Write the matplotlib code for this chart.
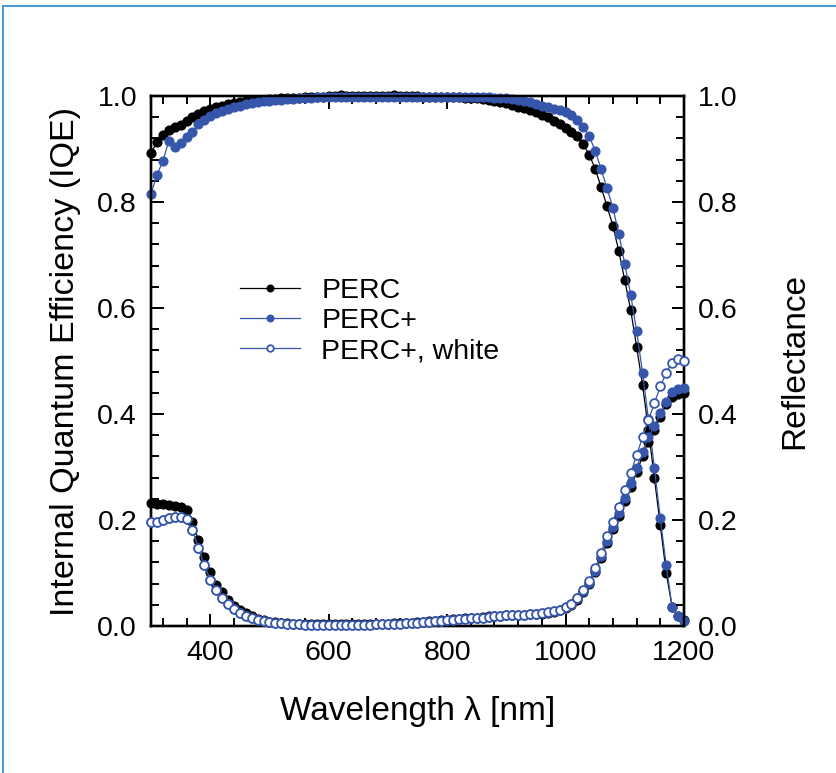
import numpy as np
import matplotlib
matplotlib.use("Agg")
import matplotlib.pyplot as plt
from matplotlib.patches import Rectangle

plt.rcParams["font.family"] = ["Liberation Sans", "DejaVu Sans"]

wavelength = list(range(300, 1201, 10))

iqe_perc = [
    0.892, 0.913, 0.927, 0.935, 0.941, 0.945, 0.952, 0.960, 0.966, 0.972,
    0.976, 0.979, 0.982, 0.984, 0.986, 0.988, 0.990, 0.991, 0.992, 0.993,
    0.994, 0.995, 0.996, 0.996, 0.997, 0.997, 0.998, 0.998, 0.999, 0.999,
    1.000, 1.000, 1.001, 1.000, 1.000, 1.000, 1.000, 1.000, 1.000, 1.000,
    1.000, 1.001, 1.000, 1.000, 1.000, 1.000, 0.999, 0.999, 0.999, 0.999,
    0.999, 0.998, 0.998, 0.997, 0.997, 0.996, 0.994, 0.993, 0.991, 0.989,
    0.986, 0.983, 0.980, 0.977, 0.973, 0.970, 0.965, 0.960, 0.953, 0.947,
    0.940, 0.933, 0.924, 0.909, 0.889, 0.863, 0.828, 0.792, 0.755, 0.707,
    0.652, 0.596, 0.527, 0.455, 0.370, 0.279, 0.190, 0.100, 0.036, 0.018,
    0.011,
]
iqe_perc_plus = [
    0.815, 0.851, 0.877, 0.915, 0.904, 0.911, 0.922, 0.932, 0.947, 0.955,
    0.962, 0.967, 0.972, 0.976, 0.979, 0.982, 0.984, 0.986, 0.988, 0.990,
    0.991, 0.992, 0.993, 0.994, 0.995, 0.996, 0.997, 0.997, 0.998, 0.998,
    0.998, 0.999, 0.999, 0.999, 0.999, 0.999, 0.999, 0.999, 0.999, 0.999,
    0.999, 0.999, 0.999, 0.999, 0.999, 0.999, 0.999, 0.999, 0.999, 0.999,
    0.999, 0.999, 0.999, 0.999, 0.999, 0.998, 0.998, 0.998, 0.997, 0.997,
    0.996, 0.995, 0.993, 0.991, 0.988, 0.985, 0.982, 0.979, 0.976, 0.974,
    0.970, 0.964, 0.955, 0.941, 0.924, 0.897, 0.862, 0.826, 0.789, 0.740,
    0.683, 0.625, 0.556, 0.478, 0.390, 0.298, 0.203, 0.115, 0.035, 0.018,
    0.010,
]
refl_perc = [
    0.233, 0.230, 0.230, 0.228, 0.226, 0.224, 0.218, 0.197, 0.162, 0.131,
    0.102, 0.077, 0.065, 0.050, 0.038, 0.030, 0.024, 0.019, 0.014, 0.011,
    0.008, 0.007, 0.006, 0.005, 0.004, 0.004, 0.003, 0.003, 0.003, 0.003,
    0.003, 0.003, 0.003, 0.003, 0.003, 0.003, 0.003, 0.003, 0.004, 0.004,
    0.004, 0.005, 0.005, 0.006, 0.006, 0.007, 0.008, 0.009, 0.010, 0.011,
    0.012, 0.013, 0.014, 0.015, 0.016, 0.016, 0.017, 0.018, 0.019, 0.019,
    0.020, 0.020, 0.021, 0.021, 0.022, 0.022, 0.023, 0.025, 0.027, 0.030,
    0.034, 0.040, 0.050, 0.064, 0.080, 0.102, 0.128, 0.156, 0.183, 0.208,
    0.235, 0.262, 0.290, 0.320, 0.348, 0.370, 0.395, 0.418, 0.433, 0.438,
    0.440,
]
refl_perc_plus = [
    0.196, 0.197, 0.200, 0.203, 0.206, 0.206, 0.201, 0.181, 0.147, 0.115,
    0.087, 0.068, 0.052, 0.042, 0.033, 0.025, 0.019, 0.015, 0.011, 0.009,
    0.007, 0.006, 0.005, 0.004, 0.003, 0.003, 0.002, 0.002, 0.002, 0.002,
    0.002, 0.002, 0.002, 0.002, 0.002, 0.002, 0.002, 0.002, 0.003, 0.003,
    0.003, 0.004, 0.004, 0.005, 0.005, 0.006, 0.007, 0.008, 0.009, 0.010,
    0.011, 0.012, 0.013, 0.014, 0.015, 0.016, 0.016, 0.017, 0.018, 0.019,
    0.020, 0.020, 0.021, 0.021, 0.022, 0.022, 0.024, 0.027, 0.029, 0.031,
    0.035, 0.041, 0.052, 0.066, 0.082, 0.104, 0.132, 0.160, 0.187, 0.213,
    0.241, 0.269, 0.298, 0.329, 0.357, 0.377, 0.401, 0.423, 0.442, 0.447,
    0.449,
]
refl_perc_plus_white = [
    0.196, 0.197, 0.200, 0.203, 0.206, 0.206, 0.201, 0.181, 0.147, 0.115,
    0.087, 0.068, 0.052, 0.042, 0.033, 0.025, 0.019, 0.015, 0.011, 0.009,
    0.007, 0.006, 0.005, 0.004, 0.003, 0.003, 0.002, 0.002, 0.002, 0.002,
    0.002, 0.002, 0.002, 0.002, 0.002, 0.002, 0.002, 0.002, 0.003, 0.003,
    0.003, 0.004, 0.004, 0.005, 0.005, 0.006, 0.007, 0.008, 0.009, 0.010,
    0.011, 0.012, 0.013, 0.014, 0.015, 0.016, 0.016, 0.017, 0.018, 0.019,
    0.020, 0.020, 0.021, 0.021, 0.022, 0.022, 0.024, 0.027, 0.029, 0.031,
    0.035, 0.041, 0.052, 0.067, 0.084, 0.109, 0.138, 0.169, 0.197, 0.225,
    0.257, 0.288, 0.323, 0.356, 0.389, 0.420, 0.452, 0.478, 0.497, 0.503,
    0.500,
]

black = "black"
blue = "#3656ac"
ms = 6.3
lw = 0.9

fig = plt.figure(figsize=(8.37, 7.73), dpi=100)
ax = fig.add_axes([151 / 837, 1 - 626 / 773, 533 / 837, 530 / 773])
ax2 = ax.twinx()

# IQE on the left axis
ax.plot(wavelength, iqe_perc, color=black, lw=lw, marker="o", ms=ms, mec=black, mfc=black, clip_on=False, zorder=3)
ax.plot(wavelength, iqe_perc_plus, color=blue, lw=lw, marker="o", ms=ms, mec=blue, mfc=blue, clip_on=False, zorder=4)

# reflectance on the right axis
ax2.plot(wavelength, refl_perc, color=black, lw=lw, marker="o", ms=ms, mec=black, mfc=black,
         clip_on=False, zorder=3, label="PERC")
ax2.plot(wavelength, refl_perc_plus, color=blue, lw=lw, marker="o", ms=ms, mec=blue, mfc=blue,
         clip_on=False, zorder=4, label="PERC+")
ax2.plot(wavelength, refl_perc_plus_white, color=blue, lw=lw, marker="o", ms=ms, mec=blue, mfc="white",
         mew=1.3, clip_on=False, zorder=5, label="PERC+, white")

for a in (ax, ax2):
    a.set_xlim(300, 1200)
    a.set_ylim(0, 1.0)
    a.set_yticks(np.arange(0, 1.01, 0.2))
    a.set_yticks(np.arange(0, 1.001, 0.04), minor=True)
    for s in a.spines.values():
        s.set_linewidth(1.7)

ax.set_xticks([400, 600, 800, 1000, 1200])
ax.set_xticks(np.arange(320, 1200, 40), minor=True)
ax.tick_params(which="both", direction="in", top=True, right=False, labelsize=20.5, width=1.4)
ax.tick_params(which="major", length=9, pad=10)
ax.tick_params(which="minor", length=6)
ax2.tick_params(which="both", direction="in", labelsize=20.5, width=1.4)
ax2.tick_params(which="major", length=9, pad=10)
ax2.tick_params(which="minor", length=6)

ax.yaxis.set_major_formatter(plt.FormatStrFormatter("%.1f"))
ax2.yaxis.set_major_formatter(plt.FormatStrFormatter("%.1f"))

ax.set_xlabel("Wavelength λ [nm]", fontsize=24, labelpad=22)
ax.set_ylabel("Internal Quantum Efficiency (IQE)", fontsize=24.5, labelpad=12)
ax2.set_ylabel("Reflectance", fontsize=24, labelpad=30)

leg = ax2.legend(loc="upper left", bbox_to_anchor=(0.167, 0.657), frameon=False, fontsize=20.5,
                 handlelength=2.1, handletextpad=0.75, labelspacing=0.15, borderpad=0,
                 borderaxespad=0, markerscale=0.75)

# thin blue frame around the figure
fig.patches.append(Rectangle((3 / 837, -0.05), 1.1, 1 - 6 / 773 + 0.05, transform=fig.transFigure,
                             fill=False, edgecolor="#4a9fd8", lw=1.5))

fig.savefig("out.png", dpi=100)
